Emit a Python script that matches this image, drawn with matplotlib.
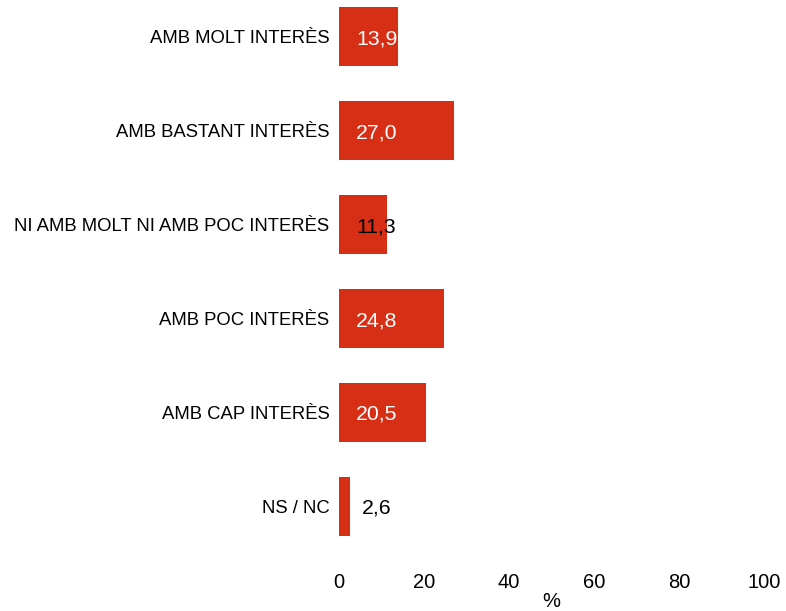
import matplotlib.pyplot as plt

plt.rcParams['font.family'] = ['Liberation Sans', 'DejaVu Sans']

categories = ['AMB MOLT INTERÈS', 'AMB BASTANT INTERÈS', 'NI AMB MOLT NI AMB POC INTERÈS',
              'AMB POC INTERÈS', 'AMB CAP INTERÈS', 'NS / NC']
values = [13.9, 27.0, 11.3, 24.8, 20.5, 2.6]
xticks = [0, 20, 40, 60, 80, 100]

bar_color = '#D62F16'

fig = plt.figure(figsize=(7.86, 6.11), dpi=100)
ax = fig.add_axes([339 / 786, 1 - 563 / 611, 425 / 786, 563 / 611])

ypos = list(range(len(categories)))
ax.barh(ypos, values, height=0.63, color=bar_color)

# value labels: white inside the bar when it fits, black otherwise
for y, v in zip(ypos, values):
    label = f"{v:.1f}".replace('.', ',')
    if v > 5:
        x = 4
    else:
        x = v + 2.8
    color = 'white' if v > 13 else 'black'
    ax.text(x, y + 0.02, label, ha='left', va='center', fontsize=15.3, color=color)

ax.set_xlim(0, 100)
ax.set_ylim(5.6, -0.39)
ax.set_yticks(ypos)
ax.set_yticklabels(categories, fontsize=13.3)
ax.set_xticks(xticks)
ax.set_xticklabels([str(t) for t in xticks], fontsize=14.5)
ax.tick_params(axis='both', length=0)
ax.tick_params(axis='y', pad=7)
ax.tick_params(axis='x', pad=7)
ax.set_xlabel('%', fontsize=14.5, labelpad=0)
for s in ax.spines.values():
    s.set_visible(False)

fig.savefig('out.png', dpi=100)
